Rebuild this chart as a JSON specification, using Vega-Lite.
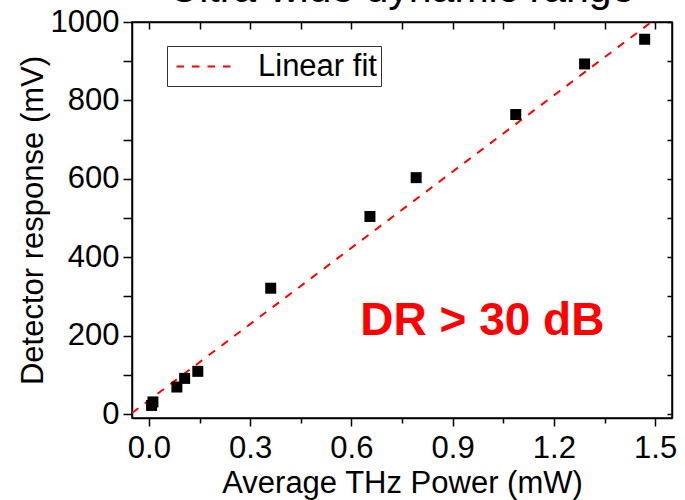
{
  "$schema": "https://vega.github.io/schema/vega-lite/v6.json",
  "width": 540,
  "height": 396,
  "autosize": {"type": "none"},
  "padding": {"left": 132, "top": 22, "right": 13, "bottom": 82},
  "background": "white",
  "title": {"text": "Ultra-wide dynamic range", "font": "Liberation Sans", "fontSize": 41, "fontWeight": "normal", "color": "black", "baseline": "alphabetic", "offset": 0, "dy": 37, "anchor": "middle"},
  "config": {
    "view": {"stroke": "black", "strokeWidth": 1.5},
    "axis": {"domainColor": "black", "domainWidth": 1.5, "tickColor": "black", "tickWidth": 1.5, "labelFont": "Liberation Sans", "labelFontSize": 31, "labelColor": "black", "titleFont": "Liberation Sans", "titleFontSize": 31, "titleFontWeight": "normal", "titleColor": "black", "grid": false}
  },
  "datasets": {
    "points": [
      {"P": 0.008, "V": 22},
      {"P": 0.012, "V": 31},
      {"P": 0.083, "V": 69},
      {"P": 0.106, "V": 91},
      {"P": 0.145, "V": 109},
      {"P": 0.361, "V": 321},
      {"P": 0.655, "V": 504},
      {"P": 0.792, "V": 603},
      {"P": 1.087, "V": 764},
      {"P": 1.291, "V": 893},
      {"P": 1.469, "V": 956}
    ],
    "fit": [
      {"P": -0.05, "V": 2.6, "series": "Linear fit"},
      {"P": 1.489, "V": 1000, "series": "Linear fit"}
    ],
    "note": [{"P": 0.988, "V": 202, "label": "DR > 30 dB"}]
  },
  "layer": [
    {
      "data": {"name": "fit"},
      "mark": {"type": "line", "strokeWidth": 2, "strokeDash": [8, 8], "clip": true},
      "encoding": {
        "x": {"field": "P", "type": "quantitative", "scale": {"domain": [-0.05, 1.55], "nice": false, "zero": false},
          "axis": {"orient": "top", "values": [0, 0.15, 0.3, 0.45, 0.6, 0.75, 0.9, 1.05, 1.2, 1.35, 1.5], "labels": false, "tickSize": -7, "title": null}},
        "y": {"field": "V", "type": "quantitative", "scale": {"domain": [-10, 1000], "nice": false, "zero": false},
          "axis": {"orient": "right", "values": [0, 100, 200, 300, 400, 500, 600, 700, 800, 900, 1000], "labels": false, "tickSize": -5, "title": null}},
        "color": {"field": "series", "type": "nominal", "scale": {"range": ["#ff0000"]},
          "legend": {"orient": "none", "legendX": 35, "legendY": 24, "title": null, "symbolType": "M-2,0L2,0", "symbolSize": 961, "symbolStrokeWidth": 2, "symbolDash": [7.5, 8], "symbolStrokeColor": "#ff0000", "symbolFillColor": "transparent", "labelFont": "Liberation Sans", "labelFontSize": 31, "labelColor": "black", "labelOffset": 34, "strokeColor": "#333333", "padding": 4, "symbolOffset": 20, "fillColor": "white"}}
      }
    },
    {
      "data": {"name": "points"},
      "mark": {"type": "square", "size": 121, "color": "black", "opacity": 1},
      "encoding": {
        "x": {"field": "P", "type": "quantitative",
          "axis": {"orient": "bottom", "values": [0, 0.15, 0.3, 0.45, 0.6, 0.75, 0.9, 1.05, 1.2, 1.35, 1.5],
            "labelExpr": "abs(datum.value/0.3 - round(datum.value/0.3)) < 0.001 ? format(datum.value, '.1f') : ''",
            "tickSize": {"condition": {"test": "abs(datum.value/0.3 - round(datum.value/0.3)) < 0.001", "value": 8}, "value": 5},
            "labelPadding": 7, "title": "Average THz Power (mW)", "titlePadding": 5}},
        "y": {"field": "V", "type": "quantitative",
          "axis": {"orient": "left", "values": [0, 100, 200, 300, 400, 500, 600, 700, 800, 900, 1000],
            "labelExpr": "datum.value % 200 == 0 ? format(datum.value, 'd') : ''", "tickSize": 9, "labelPadding": 4,
            "title": "Detector response (mV)", "titlePadding": 1}}
      }
    },
    {
      "data": {"name": "note"},
      "mark": {"type": "text", "font": "Liberation Sans", "fontSize": 46, "fontWeight": "bold", "color": "#ff0000", "align": "center", "baseline": "alphabetic"},
      "encoding": {
        "x": {"field": "P", "type": "quantitative", "axis": null},
        "y": {"field": "V", "type": "quantitative", "axis": null},
        "text": {"field": "label"}
      }
    }
  ],
  "resolve": {"axis": {"x": "independent", "y": "independent"}}
}
